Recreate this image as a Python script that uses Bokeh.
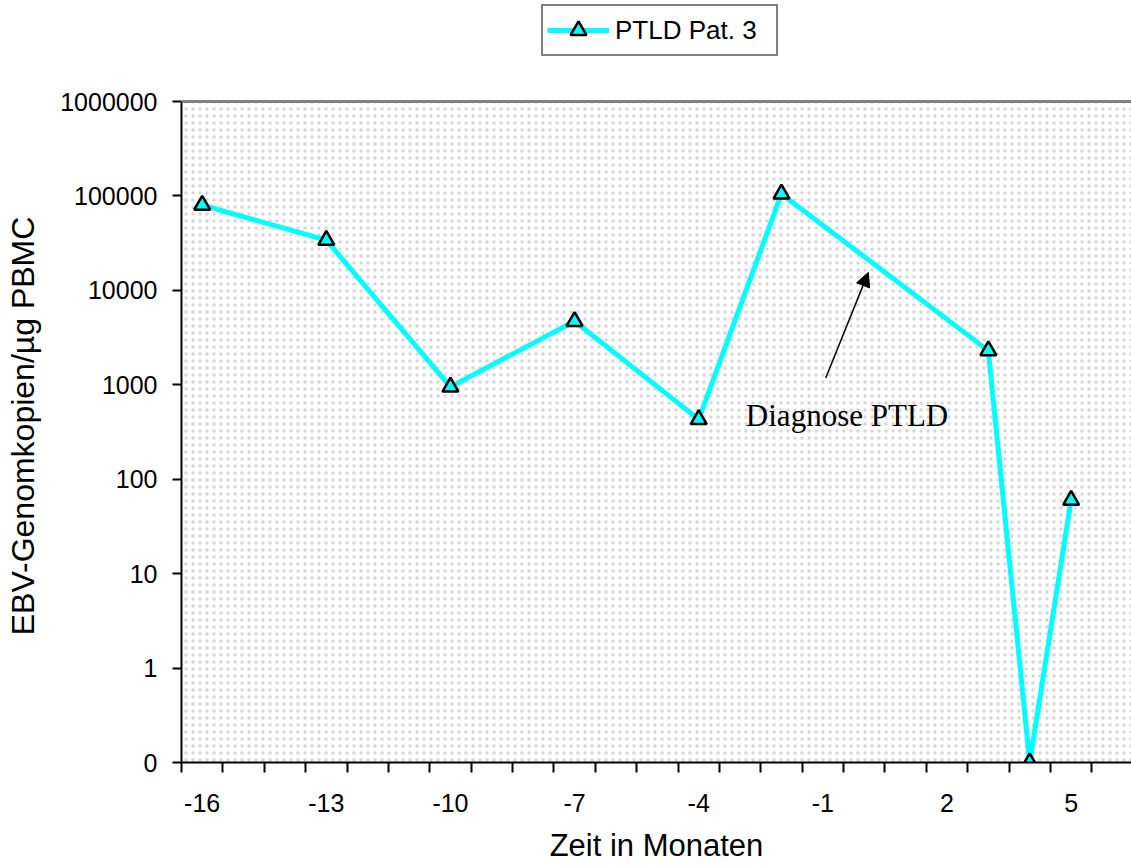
from bokeh.plotting import figure
from bokeh.models import (FixedTicker, CustomJSTickFormatter, BoxAnnotation, Span,
                          Arrow, NormalHead, Label, ColumnDataSource)
from bokeh.embed import file_html
from bokeh.resources import INLINE

# EBV genome copies per µg PBMC over time (months relative to diagnosis)
months = [-16, -13, -10, -7, -4, -2, 3, 4, 5]
copies = [80000, 34000, 950, 4700, 430, 105000, 2300, 0, 60]
series_name = "PTLD Pat. 3"

x_tick_labels = [-16, -13, -10, -7, -4, -1, 2, 5]
y_ticks = [0.1, 1, 10, 100, 1000, 10000, 100000, 1000000]

AXIS_FLOOR = 0.1   # zero values sit on the bottom of the log axis
AXIS_TOP = 1e6
plot_vals = [max(v, AXIS_FLOOR) for v in copies]

src = ColumnDataSource(data=dict(x=months, y=plot_vals))

SANS = "Liberation Sans"
SERIF = "Liberation Serif"

# the frame runs up to the top of the page so the legend can sit above the
# visible plot area; the area above AXIS_TOP is left blank
DECADE_PX = 661 / 7
y_end = AXIS_TOP * 10 ** (101 / DECADE_PX)

p = figure(width=1131, height=865, y_axis_type="log", title=None,
           x_range=(-16.5, 6.46), y_range=(AXIS_FLOOR, y_end),
           output_backend="svg", toolbar_location=None,
           min_border_left=181, min_border_right=0,
           min_border_top=0, min_border_bottom=103)

p.outline_line_color = None
p.background_fill_color = "white"
p.border_fill_color = "white"

# stippled plot area
p.add_layout(BoxAnnotation(top=AXIS_TOP, fill_color="white", fill_alpha=1.0,
                           line_color=None, hatch_pattern=".",
                           hatch_color="#cccccc", hatch_scale=7, hatch_weight=1,
                           hatch_alpha=0.8, level="underlay"))

# grid
p.xgrid.visible = False
p.ygrid.ticker = FixedTicker(ticks=y_ticks)
p.ygrid.grid_line_color = "#c0c0c0"
p.ygrid.grid_line_width = 2
p.add_layout(Span(location=AXIS_TOP, dimension="width", line_color="#808080",
                  line_width=3))

# x axis: labels every third month, tick marks between months
xa = p.xaxis[0]
xa.ticker = FixedTicker(ticks=x_tick_labels,
                        minor_ticks=[m - 0.5 for m in range(-16, 7)])
xa.formatter = CustomJSTickFormatter(code="return tick.toFixed(0);")
xa.major_tick_out = 0
xa.major_tick_in = 0
xa.minor_tick_out = 10
xa.minor_tick_in = 0
xa.minor_tick_line_color = "black"
xa.minor_tick_line_width = 2
xa.axis_line_color = "black"
xa.axis_line_width = 2
xa.major_label_text_font = SANS
xa.major_label_text_font_size = "25px"
xa.major_label_text_color = "black"
xa.major_label_text_line_height = 1.0
xa.major_label_standoff = 21
xa.axis_label = "Zeit in Monaten"
xa.axis_label_text_font = SANS
xa.axis_label_text_font_size = "31px"
xa.axis_label_text_font_style = "normal"
xa.axis_label_text_color = "black"
xa.axis_label_text_line_height = 1.0
xa.axis_label_standoff = 13

# y axis (title padded with no-break spaces so it centres on the visible area)
ya = p.yaxis[0]
ya.bounds = (AXIS_FLOOR, AXIS_TOP)
ya.ticker = FixedTicker(ticks=y_ticks, minor_ticks=[])
ya.formatter = CustomJSTickFormatter(code="return tick < 1 ? '0' : tick.toFixed(0);")
ya.major_tick_out = 9
ya.major_tick_in = 0
ya.major_tick_line_width = 2
ya.major_tick_line_color = "black"
ya.minor_tick_out = 0
ya.minor_tick_in = 0
ya.axis_line_color = "black"
ya.axis_line_width = 2
ya.major_label_text_font = SANS
ya.major_label_text_font_size = "25px"
ya.major_label_text_color = "black"
ya.major_label_standoff = 15
ya.axis_label = "EBV-Genomkopien/µg PBMC" + "\u00a0" * 10
ya.axis_label_text_font = SANS
ya.axis_label_text_font_size = "32px"
ya.axis_label_text_font_style = "normal"
ya.axis_label_text_color = "black"
ya.axis_label_standoff = 16

# series
p.line("x", "y", source=src, line_color="#00FFFF", line_width=5,
       legend_label=series_name)
p.scatter("x", "y", source=src, marker="triangle", size=16,
          fill_color="#00FFFF", line_color="black", line_width=2.5,
          legend_label=series_name)

# annotation
p.add_layout(Arrow(end=NormalHead(size=14, fill_color="black", line_color="black"),
                   x_start=-0.93, y_start=1180, x_end=0.1, y_end=15500,
                   line_color="black", line_width=1.5))
p.add_layout(Label(x=-2.86, y=472, text="Diagnose PTLD", text_font=SERIF,
                   text_font_size="31px", text_color="black",
                   text_baseline="alphabetic"))

# legend above the plot area
lg = p.legend[0]
lg.location = (360, 706)
lg.border_line_color = "black"
lg.border_line_width = 2
lg.background_fill_color = "white"
lg.background_fill_alpha = 1.0
lg.padding = 4
lg.margin = 0
lg.spacing = 0
lg.glyph_width = 62
lg.glyph_height = 40
lg.label_height = 40
lg.label_width = 157
lg.label_standoff = 6
lg.label_text_font = SANS
lg.label_text_font_size = "26px"
lg.label_text_color = "black"

open("out.html", "w").write(file_html(p, INLINE))
